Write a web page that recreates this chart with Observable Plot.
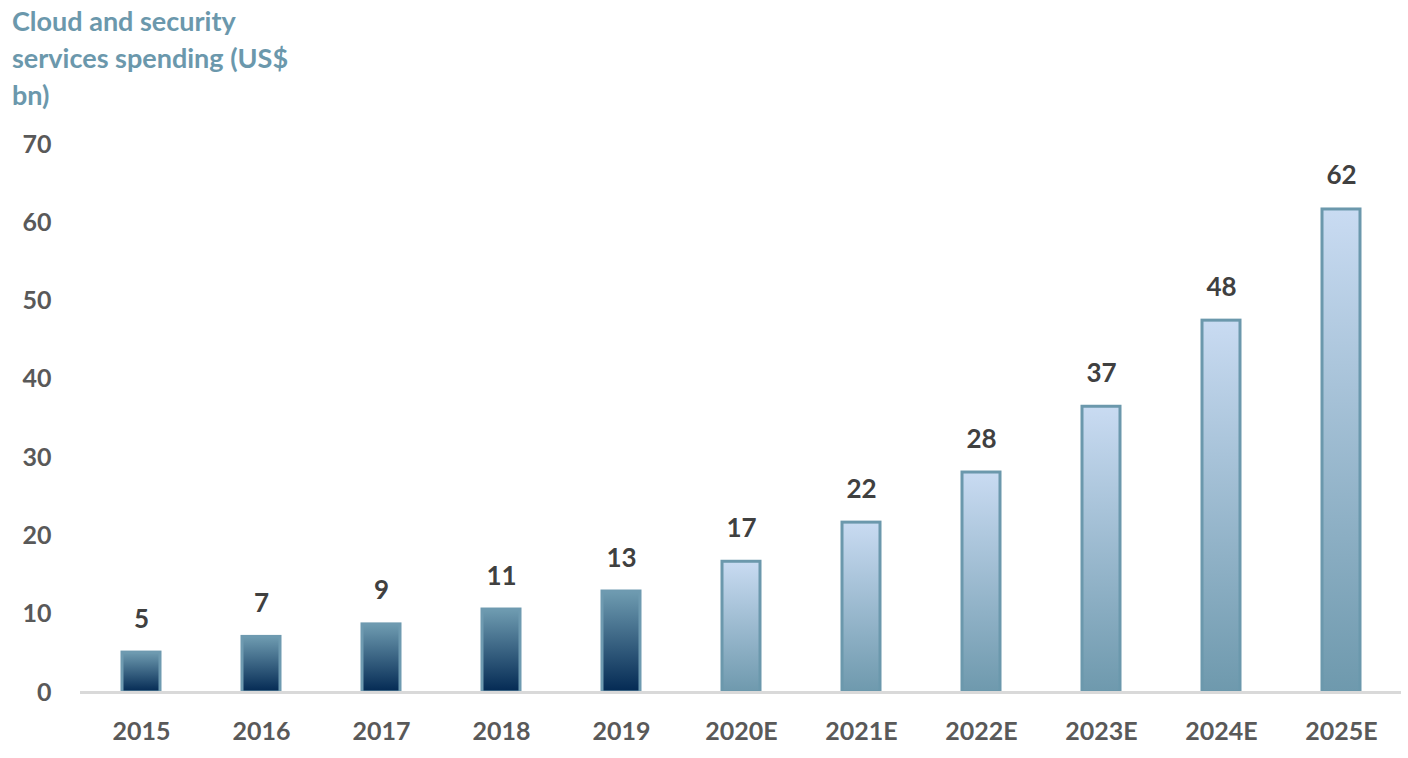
<!DOCTYPE html>
<html>
<head>
<meta charset="utf-8">
<script src="https://cdn.jsdelivr.net/npm/d3@7"></script>
<script src="https://cdn.jsdelivr.net/npm/@observablehq/plot@0.6"></script>
<style>
  html, body { margin: 0; padding: 0; background: #fff; }
  #title {
    font-family: Lato, "Open Sans", sans-serif;
    font-weight: bold;
    font-size: 27px;
    line-height: 37px;
    color: #6b98ac;
    padding: 2px 0 0 12px;
    height: 110px;
    box-sizing: border-box;
  }
  #chart svg { display: block; }
</style>
</head>
<body>
<div id="title">Cloud and security<br>services spending (US$<br>bn)</div>
<div id="chart"></div>
<script>
const years = ["2015", "2016", "2017", "2018", "2019", "2020E", "2021E", "2022E", "2023E", "2024E", "2025E"];
const spending = [5.1, 7.1, 8.7, 10.6, 12.9, 16.7, 21.7, 28.1, 36.5, 47.5, 61.7];
const yTicks = [0, 10, 20, 30, 40, 50, 60, 70];

const data = years.map((year, i) => ({
  year,
  value: spending[i],
  label: String(Math.round(spending[i])),
  forecast: year.endsWith("E")
}));

const chart = Plot.plot({
  width: 1408,
  height: 648,
  marginTop: 34,
  marginBottom: 66,
  marginLeft: 80,
  marginRight: 7,
  style: {
    fontFamily: "Lato, 'Open Sans', sans-serif",
    fontSize: "25px",
    fontWeight: "bold",
    color: "#595959",
    background: "#fff"
  },
  x: {domain: years, paddingInner: 0.684, paddingOuter: 0.34, label: null, tickSize: 0, tickPadding: 30},
  y: {domain: [0, 70], ticks: yTicks, label: null, tickSize: 0, tickPadding: 29},
  marks: [
    Plot.barY(data.filter(d => !d.forecast), {x: "year", y: "value", fill: "url(#gradHist)", stroke: "#6e9ab0", strokeWidth: 3}),
    Plot.barY(data.filter(d => d.forecast), {x: "year", y: "value", fill: "url(#gradFcst)", stroke: "#6b98ac", strokeWidth: 3}),
    Plot.ruleY([0], {stroke: "#d9d9d9", strokeWidth: 3}),
    Plot.text(data, {x: "year", y: "value", text: "label", dy: -25, lineAnchor: "bottom", fill: "#404040", fontSize: 26, fontWeight: "bold"})
  ]
});

const defs = d3.select(chart).insert("defs", ":first-child");
const g1 = defs.append("linearGradient").attr("id", "gradHist").attr("x1", 0).attr("y1", 0).attr("x2", 0).attr("y2", 1);
g1.append("stop").attr("offset", "0%").attr("stop-color", "#6f9cb1");
g1.append("stop").attr("offset", "100%").attr("stop-color", "#032953");
const g2 = defs.append("linearGradient").attr("id", "gradFcst").attr("x1", 0).attr("y1", 0).attr("x2", 0).attr("y2", 1);
g2.append("stop").attr("offset", "0%").attr("stop-color", "#c9dbf2");
g2.append("stop").attr("offset", "100%").attr("stop-color", "#6e99ad");

document.getElementById("chart").appendChild(chart);
</script>
</body>
</html>
